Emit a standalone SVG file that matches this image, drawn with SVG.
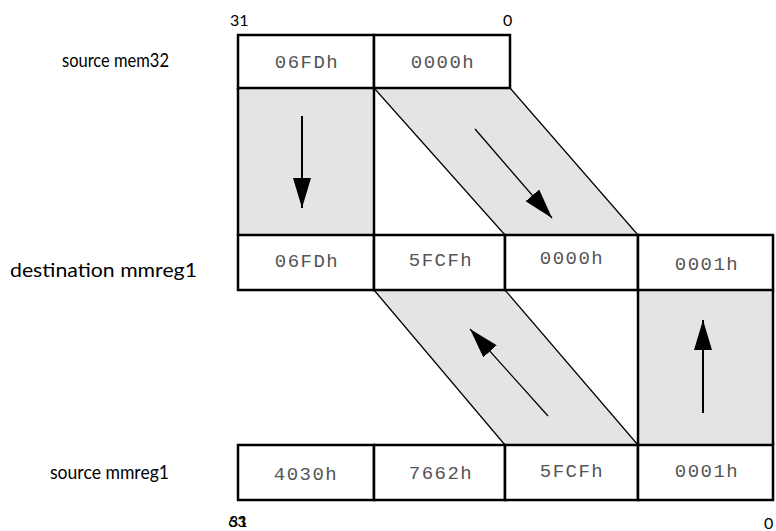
<svg xmlns="http://www.w3.org/2000/svg" width="776" height="531" viewBox="0 0 776 531">
<style>
.box{fill:#fff;stroke:#000;stroke-width:2.5}
.gray{fill:#e4e4e4;stroke:none}
.diag{stroke:#000;stroke-width:1.2;fill:none}
.edge{stroke:#000;stroke-width:2.5;fill:none}
.arr{stroke:#000;stroke-width:2;fill:none}
.arrd{stroke:#000;stroke-width:1.3;fill:none}
.cell{font-family:"Liberation Mono","DejaVu Sans Mono",monospace;font-size:19px;fill:#555;text-anchor:middle;letter-spacing:1.5px}
.lbl{font-family:"Lato","Liberation Sans",sans-serif;font-size:19px;fill:#000}
.bit{font-family:"Lato","Liberation Sans",sans-serif;font-size:16px;fill:#000}
</style>
<defs>
<marker id="ahb" viewBox="0 0 30 18" refX="30" refY="9" markerWidth="30" markerHeight="18" markerUnits="userSpaceOnUse" orient="auto">
<path d="M0,0 L30,9 L0,18 z" fill="#000"/>
</marker>
</defs>

<g id="bit-labels">
<text class="bit" x="230" y="26">31</text>
<text class="bit" x="503" y="26">0</text>
<text class="bit" x="228" y="527">63</text>
<text class="bit" x="229" y="527">31</text>
<text class="bit" x="764" y="529">0</text>
</g>

<g id="row-labels">
<text class="lbl" x="62" y="67" textLength="107" lengthAdjust="spacingAndGlyphs">source mem32</text>
<text class="lbl" x="10" y="277" textLength="187" lengthAdjust="spacingAndGlyphs">destination mmreg1</text>
<text class="lbl" x="50" y="479" textLength="119" lengthAdjust="spacingAndGlyphs">source mmreg1</text>
</g>

<g id="flows">
<g id="flow-top-left">
<rect class="gray" x="238" y="88" width="136" height="147"/>
<line class="edge" x1="238" y1="88" x2="238" y2="235"/>
<line class="edge" x1="374" y1="88" x2="374" y2="235"/>
<line class="arr" x1="302" y1="116" x2="302" y2="208" marker-end="url(#ahb)"/>
</g>
<g id="flow-top-right">
<polygon class="gray" points="374,88 510,88 638,235 505,235"/>
<line class="diag" x1="374" y1="88" x2="505" y2="235"/>
<line class="diag" x1="510" y1="88" x2="638" y2="235"/>
<line class="arrd" x1="475" y1="129" x2="552" y2="218" marker-end="url(#ahb)"/>
</g>
<g id="flow-bottom-left">
<polygon class="gray" points="374,290 505,290 638,445 505,445"/>
<line class="diag" x1="374" y1="290" x2="505" y2="445"/>
<line class="diag" x1="505" y1="290" x2="638" y2="445"/>
<line class="arrd" x1="548" y1="416" x2="470" y2="329" marker-end="url(#ahb)"/>
</g>
<g id="flow-bottom-right">
<rect class="gray" x="638" y="290" width="135" height="155"/>
<line class="edge" x1="638" y1="290" x2="638" y2="445"/>
<line class="edge" x1="773" y1="290" x2="773" y2="445"/>
<line class="arr" x1="703" y1="413" x2="703" y2="320" marker-end="url(#ahb)"/>
</g>
</g>

<g id="source-mem32">
<rect class="box" x="238" y="35" width="136" height="53"/>
<rect class="box" x="374" y="35" width="136" height="53"/>
<text class="cell" x="307" y="68">06FDh</text>
<text class="cell" x="443" y="68">0000h</text>
</g>

<g id="destination-mmreg1">
<rect class="box" x="238" y="235" width="136" height="55"/>
<rect class="box" x="374" y="235" width="131" height="55"/>
<rect class="box" x="505" y="235" width="133" height="55"/>
<rect class="box" x="638" y="235" width="135" height="55"/>
<text class="cell" x="307" y="267">06FDh</text>
<text class="cell" x="441" y="266">5FCFh</text>
<text class="cell" x="572" y="264">0000h</text>
<text class="cell" x="707" y="270">0001h</text>
</g>

<g id="source-mmreg1">
<rect class="box" x="238" y="445" width="136" height="55"/>
<rect class="box" x="374" y="445" width="131" height="55"/>
<rect class="box" x="505" y="445" width="133" height="55"/>
<rect class="box" x="638" y="445" width="135" height="55"/>
<text class="cell" x="306" y="480">4030h</text>
<text class="cell" x="441" y="479">7662h</text>
<text class="cell" x="572" y="477">5FCFh</text>
<text class="cell" x="707" y="477">0001h</text>
</g>
</svg>
